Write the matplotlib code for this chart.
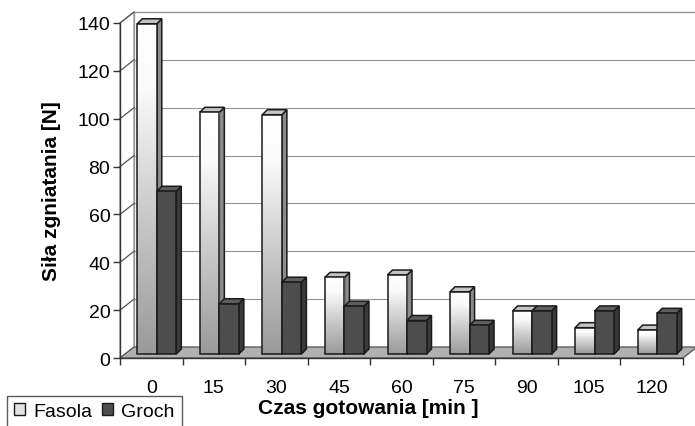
import numpy as np
import matplotlib.pyplot as plt
from matplotlib.patches import Polygon, Rectangle, Patch
from matplotlib.colors import LinearSegmentedColormap

plt.rcParams['font.family'] = ['Liberation Sans', 'DejaVu Sans']

# --- dane: siła zgniatania [N] w funkcji czasu gotowania [min] ---
czas = ['0', '15', '30', '45', '60', '75', '90', '105', '120']
fasola = [138, 101, 100, 32, 33, 26, 18, 11, 10]
groch = [68, 21, 30, 20, 14, 12, 18, 18, 17]
y_ticks = [0, 20, 40, 60, 80, 100, 120, 140]

W, H = 695, 427
fig = plt.figure(figsize=(W / 100, H / 100), dpi=100)

# przednia płaszczyzna wykresu (w pikselach)
x_left, x_right = 120, 683
y_base, y_top = 359, 24
ax = fig.add_axes([x_left / W, 1 - y_base / H,
                   (x_right - x_left) / W, (y_base - y_top) / H])
ax.patch.set_visible(False)

n = len(czas)
px_x = n / (x_right - x_left)
px_y = 140 / (y_base - y_top)

# głębokość "pudełka" 3D oraz słupków
DX, DY = 14 * px_x, 11 * px_y
BX, BY = 5 * px_x, 5 * px_y
FX, FY = 6 * px_x, 4 * px_y
BAR_W = 19.5 * px_x
EDGE = '#1a1a1a'
GRID = '#929292'

x0, x1 = -0.5, n - 0.5
ymax = y_ticks[-1]

# ściana tylna i lewa
ax.add_patch(Polygon([(x0 + DX, DY), (x1 + DX, DY), (x1 + DX, ymax + DY),
                      (x0 + DX, ymax + DY)], fc='white', ec=GRID, lw=0.9,
                     clip_on=False, zorder=0.2))
ax.add_patch(Polygon([(x0, 0), (x0 + DX, DY), (x0 + DX, ymax + DY), (x0, ymax)],
                     fc='white', ec=GRID, lw=0.9, clip_on=False, zorder=0.2))
for v in y_ticks[1:]:
    ax.plot([x0 + DX, x1 + DX], [v + DY, v + DY], color=GRID, lw=0.8,
            clip_on=False, zorder=0.3)
    ax.plot([x0, x0 + DX], [v, v + DY], color='#555555', lw=0.9,
            clip_on=False, zorder=0.3)

# podłoga
ax.add_patch(Polygon([(x0, 0), (x1, 0), (x1 + DX, DY), (x0 + DX, DY)],
                     fc='#b0b0b0', ec='#555555', lw=0.9, clip_on=False, zorder=0.4))

cmap = LinearSegmentedColormap.from_list(
    'jasny', [(0, '#9a9a9a'), (0.45, '#cdcdcd'), (0.8, '#fafafa'), (1, '#ffffff')])
grad = np.linspace(1, 0, 256).reshape(-1, 1)


def slupek(xs, v, z, face, side, top, gradient=False):
    xa = xs + FX
    xb = xa + BAR_W
    ya, yb = FY, FY + v
    ax.add_patch(Polygon([(xb, ya), (xb + BX, ya + BY), (xb + BX, yb + BY), (xb, yb)],
                         fc=side, ec=EDGE, lw=1.1, clip_on=False, zorder=z))
    ax.add_patch(Polygon([(xa, yb), (xb, yb), (xb + BX, yb + BY), (xa + BX, yb + BY)],
                         fc=top, ec=EDGE, lw=1.1, clip_on=False, zorder=z))
    rect = Rectangle((xa, ya), BAR_W, v, fc=face, ec='none', clip_on=False,
                     zorder=z + 0.01)
    ax.add_patch(rect)
    if gradient:
        im = ax.imshow(grad, extent=[xa, xb, ya, yb], cmap=cmap, vmin=0, vmax=1,
                       aspect='auto', origin='upper', zorder=z + 0.02)
        im.set_clip_path(rect)
    ax.add_patch(Rectangle((xa, ya), BAR_W, v, fc='none', ec=EDGE, lw=1.1,
                           clip_on=False, zorder=z + 0.03))


z = 1
for i in range(n):
    slupek(i - 20 * px_x, fasola[i], z, '#e0e0e0', '#8c8c8c', '#c4c4c4', gradient=True)
    z += 0.1
    slupek(i - 0.5 * px_x, groch[i], z, '#4d4d4d', '#3a3a3a', '#5e5e5e')
    z += 0.1

ax.set_xlim(x0, x1)
ax.set_ylim(0, ymax)

# osie
for s in ['top', 'right']:
    ax.spines[s].set_visible(False)
for s in ['left', 'bottom']:
    ax.spines[s].set_color('#333333')
    ax.spines[s].set_linewidth(1.0)
    ax.spines[s].set_zorder(0.5)

ax.set_yticks(y_ticks)
ax.set_yticklabels([str(v) for v in y_ticks])
ax.tick_params(axis='y', direction='out', length=5, width=1, color='#333333',
               pad=2, labelsize=14)
ax.set_xticks(range(n))
ax.set_xticklabels(czas)
ax.set_xticks(np.arange(n + 1) - 0.5, minor=True)
ax.tick_params(axis='x', which='major', length=0, pad=15, labelsize=14)
ax.tick_params(axis='x', which='minor', direction='out', length=5, width=1,
               color='#333333')

fig.text(52 / W, 1 - 191 / H, 'Siła zgniatania [N]', rotation=90, fontsize=15,
         fontweight='bold', ha='center', va='center')
fig.text(368 / W, 1 - 409 / H, 'Czas gotowania [min ]', fontsize=15,
         fontweight='bold', ha='center', va='center')

handles = [Patch(fc='#e2e2e2', ec=EDGE, lw=1), Patch(fc='#4d4d4d', ec=EDGE, lw=1)]
leg = fig.legend(handles=handles, labels=['Fasola', 'Groch'], loc='upper left',
                 bbox_to_anchor=(7 / W, 1 - 397 / H), ncol=2, fontsize=14,
                 frameon=True, fancybox=False, edgecolor='#333333',
                 handlelength=0.55, handleheight=0.55, handletextpad=0.45,
                 columnspacing=0.5, borderpad=0.35, borderaxespad=0)
leg.get_frame().set_linewidth(1.0)

fig.savefig('out.png', dpi=100)
